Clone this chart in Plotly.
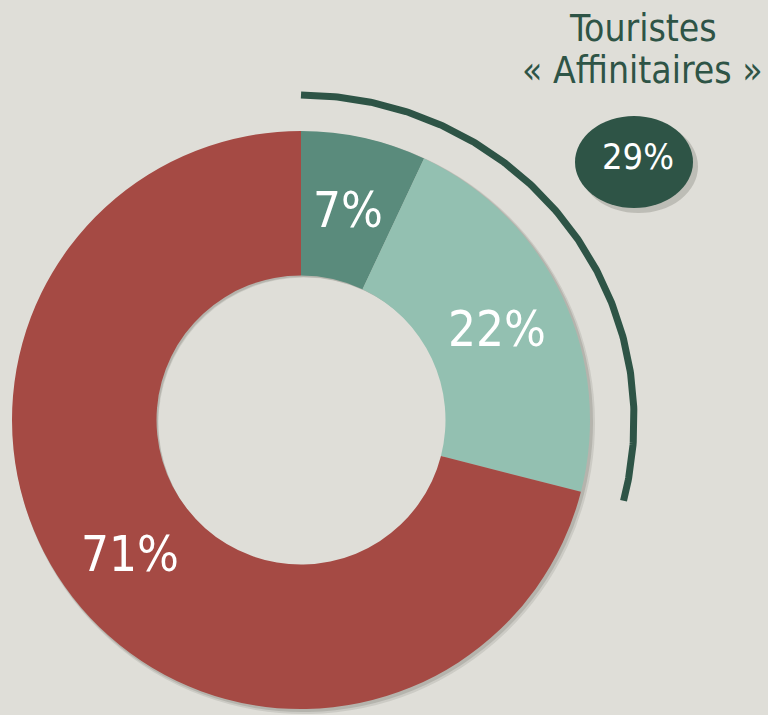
import numpy as np
import plotly.graph_objects as go

# Data
categories = ["Segment A", "Segment B", "Segment C"]
values = [7, 22, 71]
colors = ["#5A8B7C", "#93C0B1", "#A54A44"]
group_label_1 = "Touristes"
group_label_2 = "« Affinitaires »"
group_members = [0, 1]  # slices making up the highlighted group

W, H = 768, 715
BG = "#DFDED8"
DARK = "#2E5446"
FONT = "DejaVu Sans Condensed, Liberation Sans, sans-serif"

total = sum(values)
group_share = sum(values[i] for i in group_members) / total

# donut geometry (pixels)
cx, cy, r, hole = 301, 420, 289, 0.5

def dom(cx, cy, r):
    return dict(x=[(cx - r) / W, (cx + r) / W], y=[(H - cy - r) / H, (H - cy + r) / H])

fig = go.Figure()

# soft shadow layers
for off, alpha, grow in [(3, 0.10, 2), (2, 0.14, 1)]:
    fig.add_trace(go.Pie(
        values=values, labels=categories, sort=False, direction="clockwise",
        hole=hole, domain=dom(cx + off, cy + off, r + grow),
        marker=dict(colors=[f"rgba(40,40,30,{alpha})"] * len(values), line=dict(width=0)),
        textinfo="none", hoverinfo="skip", showlegend=False,
    ))

fig.add_trace(go.Pie(
    values=values, labels=categories, sort=False, direction="clockwise",
    hole=hole, domain=dom(cx, cy, r),
    marker=dict(colors=colors, line=dict(width=0)),
    textinfo="none", hoverinfo="skip", showlegend=False,
))

# slice labels at the middle of each ring segment (derived from the data)
r_mid = r * (1 + hole) / 2
cum = np.cumsum([0] + values[:-1])
for v, c0 in zip(values, cum):
    a = 2 * np.pi * (c0 + v / 2) / total
    fig.add_annotation(x=cx + r_mid * np.sin(a), y=cy - r_mid * np.cos(a),
                       xref="x", yref="y", text=f"{v}%", showarrow=False, yshift=-2,
                       font=dict(family=FONT, size=49, color="white"))

# arc spanning the group share
rx, ry = 333, 325
t = np.linspace(0, 2 * np.pi * group_share, 200)
fig.add_trace(go.Scatter(
    x=cx + rx * np.sin(t), y=cy - ry * np.cos(t),
    mode="lines", line=dict(color=DARK, width=7),
    hoverinfo="skip", showlegend=False,
))

# bubble with group share
ex, ey, erx, ery = 634, 162, 59, 46
fig.add_shape(type="circle", xref="x", yref="y",
              x0=ex - erx + 4, x1=ex + erx + 5, y0=ey - ery + 4, y1=ey + ery + 5,
              fillcolor="rgba(40,40,30,0.18)", line=dict(width=0), layer="below")
fig.add_shape(type="circle", xref="x", yref="y",
              x0=ex - erx, x1=ex + erx, y0=ey - ery, y1=ey + ery,
              fillcolor=DARK, line=dict(width=0), layer="above")

fig.add_annotation(x=638, y=156, xref="x", yref="y", text=f"{round(group_share * 100)}%",
                   showarrow=False, font=dict(family=FONT, size=36, color="white"))
fig.add_annotation(x=643, y=28, xref="x", yref="y", text=group_label_1,
                   showarrow=False, font=dict(family=FONT, size=37, color=DARK))
fig.add_annotation(x=642, y=70, xref="x", yref="y", text=group_label_2,
                   showarrow=False, font=dict(family=FONT, size=37, color=DARK))

fig.update_layout(
    width=W, height=H, margin=dict(l=0, r=0, t=0, b=0),
    paper_bgcolor=BG, plot_bgcolor="rgba(0,0,0,0)",
    xaxis=dict(range=[0, W], visible=False, fixedrange=True),
    yaxis=dict(range=[H, 0], visible=False, fixedrange=True),
    showlegend=False,
)

fig.write_html("out.html", config={"displayModeBar": False},
               post_script="document.body.style.margin='0';document.body.style.overflow='hidden';")
